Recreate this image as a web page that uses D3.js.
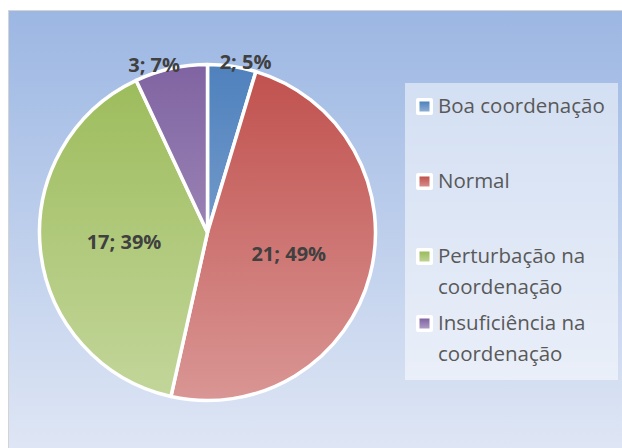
<!DOCTYPE html>
<html>
<head>
<meta charset="utf-8">
<title>Coordenação</title>
<style>
  html, body { margin: 0; padding: 0; background: #ffffff; }
  svg { display: block; }
  text { font-family: "Open Sans", sans-serif; }
</style>
</head>
<body>
<script src="https://d3js.org/d3.v7.min.js"></script>
<script>
// chart data
var categories = ["Boa coordenação", "Normal", "Perturbação na coordenação", "Insuficiência na coordenação"];
var values = [2, 21, 17, 3];
var percents = ["5%", "49%", "39%", "7%"];
var colors = ["#4f81bd", "#c0504d", "#9bbb59", "#8064a2"];

var W = 622, H = 448;
var cx = 207.5, cy = 232.5, r = 168;

var svg = d3.select("body").append("svg")
    .attr("width", W)
    .attr("height", H);

var defs = svg.append("defs");

// background gradient
var bg = defs.append("linearGradient")
    .attr("id", "bg")
    .attr("x1", 0).attr("y1", 0).attr("x2", 0).attr("y2", 1);
bg.append("stop").attr("offset", "0%").attr("stop-color", "#9cb7e3");
bg.append("stop").attr("offset", "100%").attr("stop-color", "#e0e7f5");

svg.append("rect")
    .attr("x", 8.5).attr("y", 10.5)
    .attr("width", W).attr("height", H)
    .attr("fill", "url(#bg)")
    .attr("stroke", "#d4d4d4")
    .attr("stroke-width", 1);

function tint(c, t) {
    return d3.interpolateRgb(c, "#ffffff")(t);
}

// slice gradients spread over the whole pie (group coords)
colors.forEach(function(c, i) {
    var g = defs.append("linearGradient")
        .attr("id", "slice" + i)
        .attr("gradientUnits", "userSpaceOnUse")
        .attr("x1", 0).attr("y1", -r).attr("x2", 0).attr("y2", r);
    g.append("stop").attr("offset", "0%").attr("stop-color", c);
    g.append("stop").attr("offset", "100%").attr("stop-color", tint(c, 0.4));

    var m = defs.append("linearGradient")
        .attr("id", "mark" + i)
        .attr("x1", 0).attr("y1", 0).attr("x2", 0).attr("y2", 1);
    m.append("stop").attr("offset", "0%").attr("stop-color", c);
    m.append("stop").attr("offset", "100%").attr("stop-color", tint(c, 0.35));
});

var pie = d3.pie().sort(null).value(function(d) { return d; });
var arcs = pie(values);

var arc = d3.arc().innerRadius(0).outerRadius(r);

var g = svg.append("g").attr("transform", "translate(" + cx + "," + cy + ")");

g.selectAll("path.slice")
    .data(arcs)
    .enter().append("path")
    .attr("class", "slice")
    .attr("d", arc)
    .attr("fill", function(d, i) { return "url(#slice" + i + ")"; })
    .attr("stroke", "#ffffff")
    .attr("stroke-width", 3.5)
    .attr("stroke-linejoin", "round");

// data labels
var inner = d3.arc().innerRadius(r * 0.5).outerRadius(r * 0.5);
var outer = d3.arc().innerRadius(r + 4).outerRadius(r + 4);

g.selectAll("text.lbl")
    .data(arcs)
    .enter().append("text")
    .attr("class", "lbl")
    .attr("text-anchor", "middle")
    .attr("font-size", 20)
    .attr("font-weight", "bold")
    .attr("fill", "#404040")
    .attr("x", function(d) {
        var small = (d.endAngle - d.startAngle) < 0.6;
        if (!small) return inner.centroid(d)[0];
        var p = outer.centroid(d);
        var mid = (d.startAngle + d.endAngle) / 2;
        return p[0] + (Math.sin(mid) > 0 ? 13 : -16);
    })
    .attr("y", function(d) {
        var small = (d.endAngle - d.startAngle) < 0.6;
        var p = small ? outer.centroid(d) : inner.centroid(d);
        return p[1] + 7;
    })
    .text(function(d, i) { return values[i] + "; " + percents[i]; });

// legend
var lx = 405, ly = 83, lw = 213, lh = 297;
svg.append("rect")
    .attr("x", lx).attr("y", ly)
    .attr("width", lw).attr("height", lh)
    .attr("fill", "#ffffff")
    .attr("fill-opacity", 0.5);

var legendLines = [["Boa coordenação"], ["Normal"], ["Perturbação na", "coordenação"], ["Insuficiência na", "coordenação"]];
var legendY = [113, 188, 263, 330];

var items = svg.selectAll("g.leg")
    .data(categories)
    .enter().append("g")
    .attr("class", "leg")
    .attr("transform", function(d, i) { return "translate(" + lx + "," + legendY[i] + ")"; });

items.append("rect")
    .attr("x", 11).attr("y", -15)
    .attr("width", 17).attr("height", 17)
    .attr("rx", 2)
    .attr("fill", "#ffffff");

items.append("rect")
    .attr("x", 14.5).attr("y", -11.5)
    .attr("width", 10).attr("height", 10)
    .attr("fill", function(d, i) { return "url(#mark" + i + ")"; });

items.append("text")
    .attr("x", 33)
    .attr("font-size", 20.5)
    .attr("fill", "#595959")
    .selectAll("tspan")
    .data(function(d, i) { return legendLines[i]; })
    .enter().append("tspan")
    .attr("x", 33)
    .attr("dy", function(d, j) { return j === 0 ? 0 : 31; })
    .text(function(d) { return d; });
</script>
</body>
</html>
